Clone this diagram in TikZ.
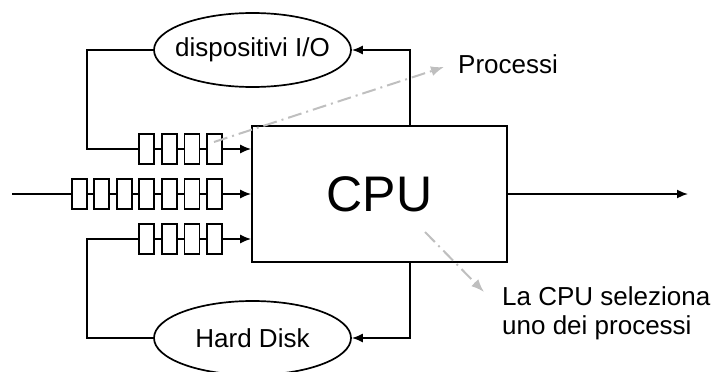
\documentclass[tikz,border=0pt]{standalone}
\usepackage{fontspec}
\setmainfont{Liberation Sans}
\usetikzlibrary{arrows.meta,shapes.geometric}
\begin{document}
\begin{tikzpicture}[x=1pt,y=-1pt,
  every node/.style={font=\fontsize{26}{29}\selectfont},
  wire/.style={line width=1.7pt, line join=miter},
  arr/.style={wire, -{Latex[length=11pt,width=9pt]}},
  cpubox/.style={draw, line width=1.7pt, minimum width=255pt, minimum height=136pt,
                 inner sep=0pt, font=\fontsize{50}{55}\selectfont},
  dev/.style={ellipse, draw, line width=1.7pt, minimum width=197pt, minimum height=74pt, inner sep=0pt,
              label={[font=\fontsize{26}{29}\selectfont]center:#1}},
  qbox/.style={draw, fill=white, line width=1.7pt, minimum width=15pt, minimum height=30pt, inner sep=0pt},
  hint/.style={line width=2pt, draw=black!25, dash pattern=on 14pt off 5pt on 2pt off 5pt,
               -{Latex[length=13pt,width=10pt]}}
]
\useasboundingbox (0,0) rectangle (715,372);

% processor and devices
\node[cpubox] (cpu) at (379.5,194) {CPU};
\node[dev={dispositivi I/O}] (io) at (252.5,50) {};
\node[dev={Hard Disk}] (hd) at (252.5,338) {};

% queues: 4 slots top and bottom, 7 slots in the middle
\foreach \i/\x in {1/146.5,2/169.5,3/192,4/214.5}{
  \node[qbox] (t\i) at (\x,149) {};
  \node[qbox] (b\i) at (\x,239) {};
}
\foreach \i/\x in {1/79.5,2/101.5,3/124.5,4/146.5,5/169.5,6/192,7/214.5}{
  \node[qbox] (m\i) at (\x,194) {};
}
\foreach \i [evaluate=\i as \j using int(\i+1)] in {1,2,3}{
  \draw[wire] (t\i.east) -- (t\j.west);
  \draw[wire] (b\i.east) -- (b\j.west);
}
\foreach \i [evaluate=\i as \j using int(\i+1)] in {1,...,6}{
  \draw[wire] (m\i.east) -- (m\j.west);
}

% queue outputs into the CPU
\draw[arr] (t4.east) -- (cpu.west |- t4.east);
\draw[arr] (m7.east) -- (cpu.west |- m7.east);
\draw[arr] (b4.east) -- (cpu.west |- b4.east);

% input and output lines
\coordinate (in) at (12,194);
\coordinate (out) at (688,194);
\draw[wire] (in) -- (m1.west);
\draw[arr] (cpu.east |- out) -- (out);

% device loops
\coordinate (rx) at (410,0);
\coordinate (lx) at (87,0);
\draw[arr] (cpu.north -| rx) |- (io.east);
\draw[arr] (cpu.south -| rx) |- (hd.east);
\draw[wire] (io.west) -- (io.west -| lx) |- (t1.west);
\draw[wire] (hd.west) -- (hd.west -| lx) |- (b1.west);

% annotations
\node[anchor=west, inner sep=0pt] (proc) at (458,64) {Processi};
\node[anchor=north west, inner sep=0pt, align=left] (sel) at (502,286) {La CPU seleziona\\uno dei processi};
\coordinate (p1) at (214,142);
\coordinate (p2) at (444,67);
\coordinate (s1) at (425,232);
\coordinate (s2) at (484,292);
\draw[hint] (p1) -- (p2);
\draw[hint] (s1) -- (s2);
\end{tikzpicture}
\end{document}
